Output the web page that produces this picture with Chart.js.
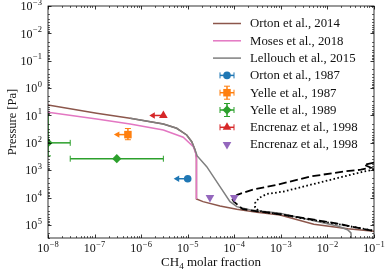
<!DOCTYPE html>
<html>
<head>
<meta charset="utf-8">
<script src="https://cdn.jsdelivr.net/npm/chart.js@4.4.1/dist/chart.umd.min.js"></script>
<style>
  html, body { margin: 0; padding: 0; background: #fff; }
  #wrap { width: 388px; height: 272px; }
</style>
</head>
<body>
<div id="wrap"><canvas id="ch4Chart" width="388" height="272"></canvas></div>
<script>
// --- model profiles (CH4 molar fraction vs pressure in Pa) ---
const orton14X = [1e-8, 1.11e-7, 5.8e-7, 3.0e-6, 5.8e-6, 9.5e-6, 1.22e-5, 1.44e-5, 1.54e-5, 1.54e-5, 2.13e-5, 4.93e-5, 1.13e-4, 3.05e-4, 9.6e-4, 5.1e-3, 0.0275, 0.1];
const orton14P = [4.1, 8.3, 12.7, 20.5, 29.4, 51.6, 90.7, 182, 329, 1.12e4, 1.41e4, 2.03e4, 2.68e4, 3.45e4, 4.3e4, 9.5e4, 1.38e5, 1.7e5];

const moses18X = [1e-8, 1.11e-7, 5.8e-7, 3.0e-6, 8.0e-6, 1.32e-5, 1.48e-5, 1.54e-5, 1.54e-5];
const moses18P = [7.7, 13.5, 20.5, 34, 62.6, 138, 235, 400, 1.12e4];

const lellouch15X = [5.8e-7, 3.0e-6, 5.8e-6, 9.5e-6, 1.22e-5, 1.44e-5, 1.6e-5, 2.56e-5, 4.93e-5, 8.1e-5, 1.13e-4, 2.23e-4, 9.6e-4, 0.0165, 0.027, 0.032, 0.0325];
const lellouch15P = [12.7, 20.5, 29.4, 51.6, 90.7, 182, 300, 745, 4000, 1.41e4, 2.15e4, 2.84e4, 3.75e4, 1.1e5, 1.5e5, 1.95e5, 3e5];

// saturation curves
const satDashX = [0.1, 0.061, 0.086, 0.052, 0.0226, 0.0044, 8.4e-4, 2.6e-4, 1.16e-4, 9.0e-5, 9.8e-5, 1.49e-4, 3.1e-4, 6e-4, 0.0032, 0.0165, 0.1];
const satDashP = [530, 630, 810, 960, 1110, 1690, 3400, 5000, 7900, 1.1e4, 1.4e4, 2.6e4, 3.2e4, 3.6e4, 5.6e4, 9e4, 1.66e5];
const satDotX = [0.1, 0.061, 0.032, 0.0061, 0.00115, 5.0e-4, 3.4e-4, 2.8e-4, 2.8e-4, 3.3e-4, 4.5e-4, 9.6e-4, 0.0032, 0.0165, 0.1];
const satDotP = [960, 1110, 1460, 2950, 6000, 7400, 1.03e4, 1.58e4, 2.3e4, 3.0e4, 3.4e4, 4.0e4, 5.9e4, 9.3e4, 1.62e5];

// --- observations ---
const orton87X = [1.0e-5];
const orton87P = [2050];
const orton87Xlim = [5.0e-6];

const yelle87X = [5.2e-7];
const yelle87P = [50];
const yelle87Pmin = [30];
const yelle87Pmax = [77];
const yelle87Xlim = [2.6e-7];

const yelle89X = [1e-8, 3e-7];
const yelle89P = [100, 380];
const yelle89Xmin = [null, 3e-8];
const yelle89Xmax = [3e-8, 3e-6];
const yelle89Pmin = [8, null];
const yelle89Pmax = [300, null];

const encrenazX = [3e-6];
const encrenazP = [10];
const encrenazXlim = [1.5e-6];

const encrenaz2X = [3e-5, 1e-4];
const encrenaz2P = [1e4, 1e4];

// axis tick labels (powers of ten)
const xTickExp = [-8, -7, -6, -5, -4, -3, -2, -1];
const yTickExp = [-3, -2, -1, 0, 1, 2, 3, 4, 5];

const SERIF = '"Liberation Serif", "DejaVu Serif", serif';

function pts(xs, ps) {
    return xs.map((v, i) => ({x: v, y: ps[i]}));
}

function lineSet(label, xs, ps, color, order, dash, width) {
    return {
        label: label, data: pts(xs, ps), showLine: true,
        borderColor: color, backgroundColor: color, borderWidth: width || 1.5,
        borderDash: dash || [], pointRadius: 0, order: order,
        legendKind: 'line'
    };
}

function obsSet(label, xs, ps, color, style, radius, err, rotation) {
    return {
        label: label, data: pts(xs, ps), showLine: false,
        borderColor: color, backgroundColor: color, borderWidth: 0,
        pointStyle: style, pointRadius: radius, pointRotation: rotation || 0,
        order: 1, clip: 0, err: err, legendKind: err ? 'err' : 'marker'
    };
}

const datasets = [
    lineSet('Orton et al., 2014', orton14X, orton14P, '#8c564b', 10),
    lineSet('Moses et al., 2018', moses18X, moses18P, '#e377c2', 9),
    lineSet('Lellouch et al., 2015', lellouch15X, lellouch15P, '#7f7f7f', 8),
    obsSet('Orton et al., 1987', orton87X, orton87P, '#1f77b4', 'circle', 3.8, {xlim: orton87Xlim}),
    obsSet('Yelle et al., 1987', yelle87X, yelle87P, '#ff7f0e', 'rect', 5.3, {xlim: yelle87Xlim, pmin: yelle87Pmin, pmax: yelle87Pmax}),
    obsSet('Yelle et al., 1989', yelle89X, yelle89P, '#2ca02c', 'rectRot', 4.6, {xmin: yelle89Xmin, xmax: yelle89Xmax, pmin: yelle89Pmin, pmax: yelle89Pmax}),
    obsSet('Encrenaz et al., 1998', encrenazX, encrenazP, '#d62728', 'triangle', 5, {xlim: encrenazXlim}),
    obsSet('Encrenaz et al., 1998', encrenaz2X, encrenaz2P, '#9467bd', 'triangle', 5, null, 180)
];
const satSets = [
    lineSet('', satDashX, satDashP, '#000000', 7, [8, 3.5], 1.8),
    lineSet('', satDotX, satDotP, '#000000', 6, [1.6, 2.4], 1.8)
];
satSets.forEach(s => { s.legendKind = null; });

function seg(ctx, x1, y1, x2, y2) {
    ctx.beginPath(); ctx.moveTo(x1, y1); ctx.lineTo(x2, y2); ctx.stroke();
}

function hbar(ctx, x1, x2, y, capL, capR) {
    ctx.lineWidth = 1.5; seg(ctx, x1, y, x2, y);
    ctx.lineWidth = 1;
    if (capL) seg(ctx, x1, y - 3, x1, y + 3);
    if (capR) seg(ctx, x2, y - 3, x2, y + 3);
}

function vbar(ctx, x, y1, y2) {
    ctx.lineWidth = 1.5; seg(ctx, x, y1, x, y2);
    ctx.lineWidth = 1;
    seg(ctx, x - 3, y1, x + 3, y1);
    seg(ctx, x - 3, y2, x + 3, y2);
}

function leftArrow(ctx, x1, xTip, y) {
    ctx.lineWidth = 1.5; seg(ctx, x1, y, xTip + 4, y);
    ctx.beginPath();
    ctx.moveTo(xTip, y); ctx.lineTo(xTip + 5.5, y - 3.2); ctx.lineTo(xTip + 5.5, y + 3.2);
    ctx.closePath(); ctx.fill();
}

function marker(ctx, style, r, x, y, rot) {
    ctx.beginPath();
    if (style === 'circle') {
        ctx.arc(x, y, r, 0, Math.PI * 2);
    } else if (style === 'rect') {
        const s = r * Math.SQRT1_2;
        ctx.rect(x - s, y - s, 2 * s, 2 * s);
    } else if (style === 'rectRot') {
        ctx.moveTo(x, y - r); ctx.lineTo(x + r, y); ctx.lineTo(x, y + r); ctx.lineTo(x - r, y);
    } else if (style === 'triangle') {
        const d = rot ? -1 : 1;
        ctx.moveTo(x, y - d * r);
        ctx.lineTo(x + r * 0.866, y + d * r * 0.5);
        ctx.lineTo(x - r * 0.866, y + d * r * 0.5);
    }
    ctx.closePath(); ctx.fill();
}

function pow10(ctx, e, x, y, align) {
    const base = '10', ex = (e < 0 ? '\u2212' : '') + Math.abs(e);
    ctx.font = '12px ' + SERIF;
    const wb = ctx.measureText(base).width;
    ctx.font = '8.5px ' + SERIF;
    const we = ctx.measureText(ex).width;
    const total = wb + we + 0.5;
    let x0 = align === 'center' ? x - total / 2 : x - total;
    ctx.textAlign = 'left';
    ctx.textBaseline = 'alphabetic';
    ctx.font = '12px ' + SERIF;
    ctx.fillText(base, x0, y);
    ctx.font = '8.5px ' + SERIF;
    ctx.fillText(ex, x0 + wb + 0.5, y - 5.5);
}

function minorValues(min, max) {
    const out = [];
    for (let e = Math.floor(Math.log10(min)); e <= Math.ceil(Math.log10(max)); e++) {
        for (let m = 1; m <= 9; m++) {
            const v = m * Math.pow(10, e);
            if (v >= min * 0.999 && v <= max * 1.001) out.push({v: v, major: m === 1});
        }
    }
    return out;
}

const decorPlugin = {
    id: 'decor',
    beforeDatasetsDraw(chart) {
        const {ctx, chartArea: a, scales: {x: xs, y: ys}} = chart;
        ctx.save();
        ctx.beginPath(); ctx.rect(a.left, a.top, a.right - a.left, a.bottom - a.top); ctx.clip();
        chart.data.datasets.forEach(ds => {
            if (!ds.err) return;
            const e = ds.err;
            ctx.strokeStyle = ds.borderColor; ctx.fillStyle = ds.borderColor;
            ds.data.forEach((p, i) => {
                const px = xs.getPixelForValue(p.x), py = ys.getPixelForValue(p.y);
                if (e.xlim && e.xlim[i] != null) {
                    leftArrow(ctx, px, xs.getPixelForValue(e.xlim[i]), py);
                }
                if (e.xmax && e.xmax[i] != null) {
                    const hasMin = e.xmin[i] != null;
                    const x1 = hasMin ? xs.getPixelForValue(e.xmin[i]) : a.left - 5;
                    hbar(ctx, x1, xs.getPixelForValue(e.xmax[i]), py, hasMin, true);
                }
                if (e.pmin && e.pmin[i] != null) {
                    vbar(ctx, px, ys.getPixelForValue(e.pmin[i]), ys.getPixelForValue(e.pmax[i]));
                }
            });
        });
        ctx.restore();
    },
    afterDraw(chart) {
        const {ctx, chartArea: a, scales: {x: xs, y: ys}} = chart;
        ctx.save();
        ctx.strokeStyle = '#000';
        ctx.fillStyle = '#000';

        // ticks, pointing inwards on all four sides
        minorValues(xs.min, xs.max).forEach(t => {
            const px = Math.round(xs.getPixelForValue(t.v)) + 0.5;
            const len = t.major ? 3.5 : 2;
            ctx.lineWidth = t.major ? 0.8 : 0.6;
            seg(ctx, px, a.bottom, px, a.bottom - len);
            seg(ctx, px, a.top, px, a.top + len);
        });
        minorValues(ys.min, ys.max).forEach(t => {
            const py = Math.round(ys.getPixelForValue(t.v)) + 0.5;
            const len = t.major ? 3.5 : 2;
            ctx.lineWidth = t.major ? 0.8 : 0.6;
            seg(ctx, a.left, py, a.left + len, py);
            seg(ctx, a.right, py, a.right - len, py);
        });

        // frame
        ctx.lineWidth = 0.8;
        ctx.strokeRect(a.left, a.top, a.right - a.left, a.bottom - a.top);

        // tick labels
        ctx.fillStyle = '#111';
        xTickExp.forEach(e => pow10(ctx, e, xs.getPixelForValue(Math.pow(10, e)), a.bottom + 14, 'center'));
        yTickExp.forEach(e => pow10(ctx, e, a.left - 6, ys.getPixelForValue(Math.pow(10, e)) + 4.2, 'right'));

        // axis titles
        ctx.textAlign = 'left';
        ctx.textBaseline = 'alphabetic';
        ctx.font = '13px ' + SERIF;
        const t1 = 'CH', t2 = '4', t3 = ' molar fraction';
        const w1 = ctx.measureText(t1).width, w3 = ctx.measureText(t3).width;
        ctx.font = '9px ' + SERIF;
        const w2 = ctx.measureText(t2).width;
        const cx = (a.left + a.right) / 2;
        let x0 = cx - (w1 + w2 + w3) / 2;
        ctx.font = '13px ' + SERIF;
        ctx.fillText(t1, x0, 266);
        ctx.font = '9px ' + SERIF;
        ctx.fillText(t2, x0 + w1, 268.5);
        ctx.font = '13px ' + SERIF;
        ctx.fillText(t3, x0 + w1 + w2, 266);

        ctx.save();
        ctx.translate(15.5, (a.top + a.bottom) / 2);
        ctx.rotate(-Math.PI / 2);
        ctx.textAlign = 'center';
        ctx.font = '12.5px ' + SERIF;
        ctx.fillText('Pressure [Pa]', 0, 0);
        ctx.restore();

        // legend
        let row = 0;
        chart.data.datasets.forEach(ds => {
            if (!ds.legendKind) return;
            const y = 23.5 + row * 17.3, cxl = 227;
            ctx.strokeStyle = ds.borderColor; ctx.fillStyle = ds.borderColor;
            if (ds.legendKind === 'line') {
                ctx.lineWidth = 1.5; seg(ctx, 213, y, 241, y);
            } else {
                if (ds.legendKind === 'err') {
                    hbar(ctx, cxl - 7, cxl + 7, y, true, true);
                    if (ds.err.pmin) vbar(ctx, cxl, y - 6.5, y + 6.5);
                }
                marker(ctx, ds.pointStyle, ds.pointRadius, cxl, y, ds.pointRotation);
            }
            ctx.fillStyle = '#111';
            ctx.font = '12.8px ' + SERIF;
            ctx.textAlign = 'left';
            ctx.textBaseline = 'middle';
            ctx.fillText(ds.label, 250, y + 0.5);
            row++;
        });
        ctx.restore();
    }
};

new Chart(document.getElementById('ch4Chart'), {
    type: 'scatter',
    data: { datasets: datasets.concat(satSets) },
    options: {
        responsive: false,
        animation: false,
        devicePixelRatio: 1,
        layout: { padding: { left: 48, top: 6, right: 14, bottom: 34 } },
        scales: {
            x: { type: 'logarithmic', min: 1e-8, max: 1e-1, display: false },
            y: { type: 'logarithmic', min: 1e-3, max: 3e5, reverse: true, display: false }
        },
        plugins: { legend: { display: false }, tooltip: { enabled: false } },
        events: []
    },
    plugins: [decorPlugin]
});
</script>
</body>
</html>
